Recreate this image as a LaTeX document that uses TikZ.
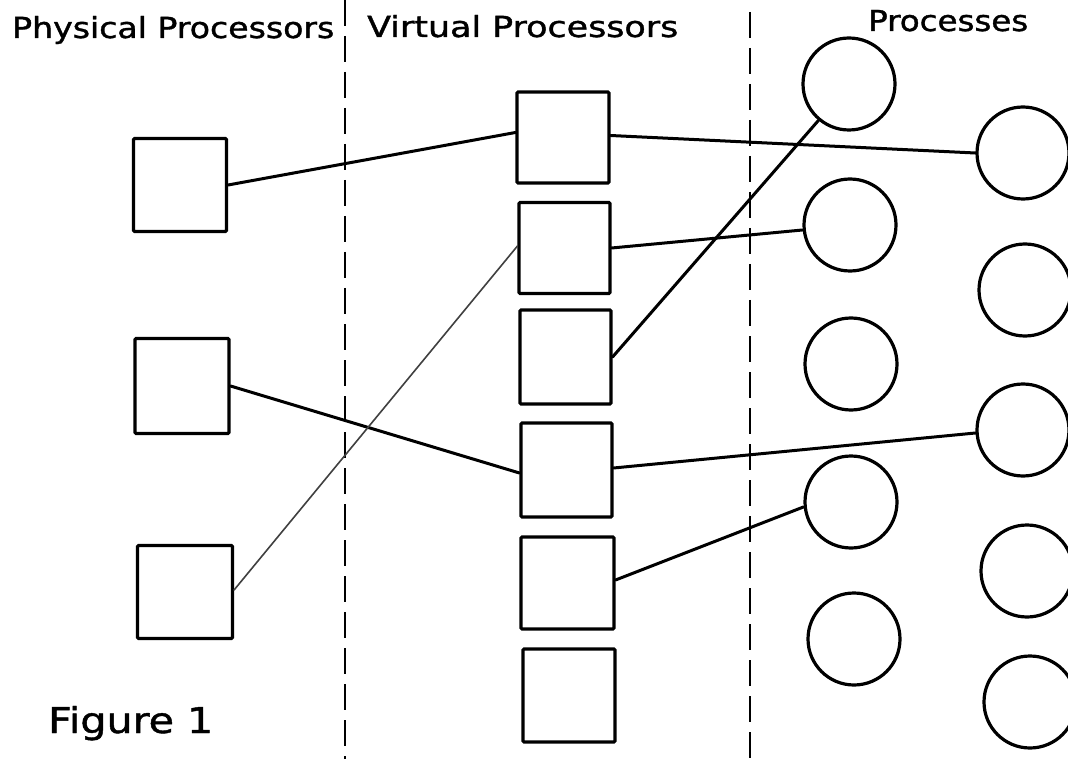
\documentclass[tikz,border=0pt]{standalone}
\usepackage{fontspec}
\newfontfamily\handfont[FakeBold=1.2]{DejaVu Sans}
\usetikzlibrary{calc}
\tikzset{
  proc/.style={draw, line width=3.1pt, rectangle, rounded corners=1pt, inner sep=0pt},
  task/.style={draw, line width=3.2pt, circle, inner sep=0pt, minimum size=92pt},
  link/.style={line width=3pt, line cap=round},
  faint/.style={line width=1.6pt, black!75, line cap=round},
  divider/.style={line width=2.6pt, dash pattern=on 26pt off 10pt},
  heading/.style={inner sep=0pt, anchor=base west}
}
\newcommand{\hw}[3]{\resizebox{#1pt}{#2pt}{\handfont #3}}
\begin{document}
\begin{tikzpicture}[x=1pt, y=-1pt]
  \useasboundingbox (0,0) rectangle (1068,759);
  \fill[white] (0,0) rectangle (1068,759);
  \clip (0,0) rectangle (1068,759);

  % column dividers
  \coordinate (d1t) at (345,0);   \coordinate (d1b) at (345,759);
  \coordinate (d2t) at (750,12);  \coordinate (d2b) at (750,759);
  \draw[divider] (d1t) -- (d1b);
  \draw[divider] (d2t) -- (d2b);

  % headings
  \node[heading] (hPhys) at (12,38)  {\hw{322}{22}{Physical Processors}};
  \node[heading] (hVirt) at (367,37) {\hw{311}{22}{Virtual Processors}};
  \node[heading] (hProc) at (868,31) {\hw{160}{21}{Processes}};
  \node[heading] (fig)   at (48,733) {\hw{165}{27}{Figure 1}};

  % physical processors
  \node[proc, minimum width=93pt, minimum height=93pt] (P1) at (180,185) {};
  \node[proc, minimum width=94pt, minimum height=95pt] (P2) at (182,386) {};
  \node[proc, minimum width=95pt, minimum height=93pt] (P3) at (185,592) {};

  % virtual processors
  \node[proc, minimum width=92pt, minimum height=91pt] (V1) at (563,137.5) {};
  \node[proc, minimum width=91pt, minimum height=91pt] (V2) at (564.5,248) {};
  \node[proc, minimum width=91pt, minimum height=94pt] (V3) at (565.5,357) {};
  \node[proc, minimum width=91pt, minimum height=94pt] (V4) at (566.5,470) {};
  \node[proc, minimum width=93pt, minimum height=92pt] (V5) at (567.5,583) {};
  \node[proc, minimum width=92pt, minimum height=93pt] (V6) at (569,695.5) {};

  % processes, inner column
  \node[task] (C1) at (849,84) {};
  \node[task] (C2) at (850,225) {};
  \node[task] (C3) at (851,364) {};
  \node[task] (C4) at (851,502) {};
  \node[task] (C5) at (854,639) {};

  % processes, outer column
  \node[task] (R1) at (1023,153) {};
  \node[task] (R2) at (1025,290) {};
  \node[task] (R3) at (1023,430) {};
  \node[task] (R4) at (1027,571) {};
  \node[task] (R5) at (1030,702) {};

  % physical -> virtual bindings
  \draw[link] (P1.east) -- ($(V1.west)+(0,-5)$);
  \draw[link] (P2.east) -- ($(V4.west)+(0,3)$);
  \draw[faint] ($(P3.east)+(0,-2)$) -- ($(V2.west)+(0,-2)$);

  % virtual -> process bindings
  \draw[link] ($(V1.east)+(0,-2)$) -- (R1.west);
  \draw[link] (V2.east) -- ($(C2.west)+(0,5)$);
  \draw[link] (V3.east) -- (C1.230);
  \draw[link] ($(V4.east)+(0,-2)$) -- ($(R3.west)+(0,3)$);
  \draw[link] ($(V5.east)+(0,-3)$) -- ($(C4.west)+(0,5)$);
\end{tikzpicture}
\end{document}
